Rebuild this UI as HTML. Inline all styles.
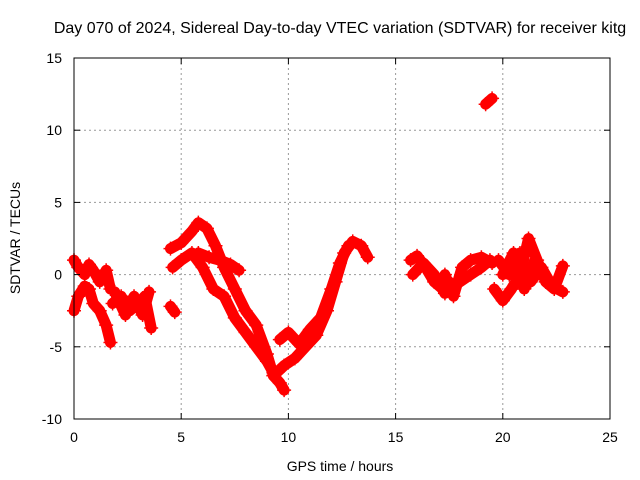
<!DOCTYPE html>
<html><head><meta charset="utf-8"><style>
body{margin:0;background:#fff}
svg{display:block;font-family:"Liberation Sans",sans-serif}
</style></head><body>
<svg id="chart" width="640" height="480" viewBox="0 0 640 480">
<rect width="640" height="480" fill="#fff"/>
<text x="340" y="33" text-anchor="middle" font-size="16" fill="#000">Day 070 of 2024, Sidereal Day-to-day VTEC variation (SDTVAR) for receiver kitg</text>
<g id="grid"></g>
<g id="series"></g>
<rect x="74" y="58" width="536" height="361" fill="none" stroke="#000" stroke-width="1"/>
<g id="ticks"></g>
<text x="340" y="471" text-anchor="middle" font-size="14">GPS time / hours</text>
<text transform="translate(20,238) rotate(-90)" text-anchor="middle" font-size="14">SDTVAR / TECUs</text>
</svg>
<script>
const xTicks=[0,5,10,15,20,25];
const yTicks=[-10,-5,0,5,10,15];
const arcT1=[0,0.2,0.5,0.7,0.9,1.2,1.5,1.7];
const arcV1=[1,0.5,0,0.7,0.3,-0.5,0.3,-1];
const arcT2=[0,0.2,0.5,0.7,0.9,1.2,1.5,1.7];
const arcV2=[-2.5,-1.5,-0.8,-1,-2,-2.5,-3.5,-4.7];
const arcT3=[1.8,2.2,2.6,3.0,3.3,3.6];
const arcV3=[-2,-1.5,-2.5,-2,-1.5,-3.7];
const arcT4=[1.9,2.4,2.8,3.2,3.5];
const arcV4=[-1.2,-2.8,-1.5,-2.8,-1.2];
const arcT5=[4.5,4.7];
const arcV5=[-2.2,-2.6];
const arcT6=[4.5,5,5.5,5.8,6.2,6.6,7,7.5,8,8.5,9,9.3,9.6,9.8];
const arcV6=[1.8,2.2,3,3.6,3.2,2,0.5,-1,-2.5,-3.5,-5.5,-7,-7.5,-8];
const arcT7=[4.6,5,5.5,6,6.5,7,7.5,8,8.5,9,9.3];
const arcV7=[0.5,1,1.5,0.5,-1,-1.5,-3,-4,-5,-6,-6.8];
const arcT8=[5.8,6.3,6.8,7.3,7.7];
const arcV8=[1.5,1.2,1,0.7,0.3];
const arcT9=[9.3,9.8,10.3,10.8,11.3,11.8,12.2,12.6,13,13.4,13.7];
const arcV9=[-7,-6.3,-5.8,-5,-4.2,-2.5,-0.5,1.5,2.3,2,1.2];
const arcT10=[9.6,10.0,10.5,11,11.5,12,12.4,12.8];
const arcV10=[-4.5,-4,-4.8,-3.8,-3,-1,0.8,2];
const arcT11=[15.7,16.0,16.4,16.8,17.2,17.5];
const arcV11=[1,1.3,0.5,-0.5,-1,-0.5];
const arcT12=[15.8,16.3,16.8,17.3];
const arcV12=[0,0.8,0,-1.3];
const arcT13=[17.3,17.7,18.1,18.5,19,19.5];
const arcV13=[0,-1.5,0.5,1,1.2,0.8];
const arcT14=[17.5,18,18.5,19,19.4];
const arcV14=[-1,-0.5,0,0.5,1];
const arcT15=[19.2,19.5];
const arcV15=[11.8,12.2];
const arcT16=[19.6,20,20.4,20.8,21.2,21.6,22,22.4,22.8];
const arcV16=[-1,-1.8,-1,0,2.5,1,-0.5,-1,0.6];
const arcT17=[19.8,20.3,20.8,21.3,21.8,22.3,22.8];
const arcV17=[1,0,1.5,-0.5,0.5,-0.8,-1.2];
const arcT18=[20,20.5,21,21.5];
const arcV18=[0,1.5,-1,1];
const arcs=[[arcT1,arcV1],[arcT2,arcV2],[arcT3,arcV3],[arcT4,arcV4],[arcT5,arcV5],[arcT6,arcV6],[arcT7,arcV7],[arcT8,arcV8],[arcT9,arcV9],[arcT10,arcV10],[arcT11,arcV11],[arcT12,arcV12],[arcT13,arcV13],[arcT14,arcV14],[arcT15,arcV15],[arcT16,arcV16],[arcT17,arcV17],[arcT18,arcV18]];
const NS='http://www.w3.org/2000/svg';
const X0=74,X1=610,Y0=419,Y1=58;
function xs(t){return X0+(t-0)/(25-0)*(X1-X0);}
function ys(v){return Y0-(v+10)/(15+10)*(Y0-Y1);}
function mk(tag,attrs,parent){const e=document.createElementNS(NS,tag);for(const k in attrs)e.setAttribute(k,attrs[k]);parent.appendChild(e);return e;}
const grid=document.getElementById('grid'),ticks=document.getElementById('ticks'),series=document.getElementById('series');
xTicks.forEach(t=>{const x=xs(t);
 if(t>0&&t<25){const l=mk('line',{x1:x,x2:x,y1:Y1,y2:Y0,stroke:'#999','stroke-dasharray':'2,3'},grid);
 
 }
 mk('line',{x1:x,x2:x,y1:Y0,y2:Y0-6,stroke:'#000'},ticks);
 mk('line',{x1:x,x2:x,y1:Y1,y2:Y1+6,stroke:'#000'},ticks);
 const tx=mk('text',{x:x,y:Y0+23,'text-anchor':'middle','font-size':'14'},ticks);tx.textContent=t;
 
 
});
yTicks.forEach(v=>{const y=ys(v);
 if(v>-10&&v<15){const l=mk('line',{x1:X0,x2:X1,y1:y,y2:y,stroke:'#999','stroke-dasharray':'2,3'},grid);
 
 }
 mk('line',{x1:X0,x2:X0+6,y1:y,y2:y,stroke:'#000'},ticks);
 mk('line',{x1:X1,x2:X1-6,y1:y,y2:y,stroke:'#000'},ticks);
 const tx=mk('text',{x:X0-12,y:y+5,'text-anchor':'end','font-size':'14'},ticks);tx.textContent=v;
 
 
});
arcs.forEach((a,i)=>{const T=a[0],V=a[1];
 const pts=T.map((t,j)=>xs(t)+','+ys(V[j])).join(' ');
 const pl=mk('polyline',{points:pts,fill:'none',stroke:'#f00','stroke-width':11,'stroke-linejoin':'round','stroke-linecap':'round'},series);
 
 
 T.forEach((t,j)=>{const x=xs(t),y=ys(V[j]);
  const p=mk('path',{d:`M${x-7},${y}H${x+7}M${x},${y-7}V${y+7}`,stroke:'#f00','stroke-width':1.5},series);
  
  
 });
});
</script>
</body></html>
